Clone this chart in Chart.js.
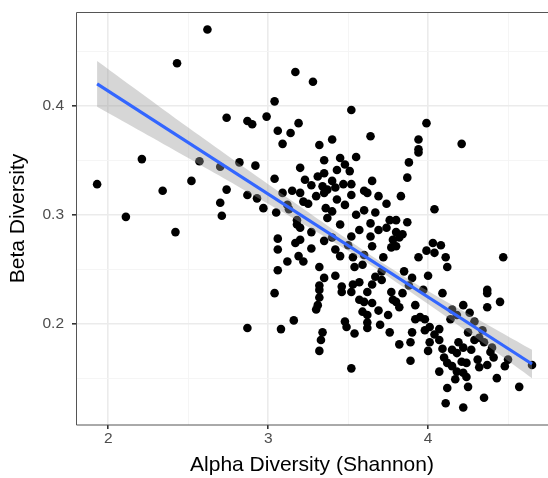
<!DOCTYPE html>
<html>
<head>
<meta charset="utf-8">
<script src="https://cdn.jsdelivr.net/npm/chart.js@4.4.1/dist/chart.umd.min.js"></script>
<style>
  html, body { margin: 0; padding: 0; background: #fff; }
  canvas { display: block; }
</style>
</head>
<body>
<canvas id="myChart" width="548" height="478"></canvas>
<script>
// samples: x = Shannon alpha diversity, y = beta diversity
const alphaDiversity = [
	1.93, 2.11, 2.21, 2.43, 2.42, 2.34, 2.52, 2.62, 2.57, 2.70,
	2.74, 2.70, 2.71, 2.74, 2.87, 2.90, 2.99, 3.04, 3.17, 3.28,
	3.19, 3.06, 3.14, 3.09, 3.32, 3.40, 3.52, 3.64, 3.99, 3.94,
	3.94, 4.21, 2.82, 2.92, 3.20, 3.35, 3.45, 3.55, 3.48, 3.51,
	3.43, 3.31, 3.35, 3.04, 3.40, 3.27, 3.34, 3.37, 3.42, 3.47,
	3.52, 3.65, 2.87, 2.93, 2.97, 3.09, 3.15, 3.20, 3.22, 3.25,
	3.30, 3.35, 3.52, 3.60, 3.62, 3.69, 3.74, 3.05, 3.12, 3.18,
	3.36, 3.40, 3.37, 3.45, 3.60, 3.67, 3.64, 3.76, 3.18, 3.20,
	3.06, 3.06, 3.17, 3.20, 3.27, 3.35, 3.40, 3.52, 3.57, 3.64,
	3.69, 3.74, 3.78, 3.42, 3.45, 3.19, 3.22, 3.53, 3.60, 3.65,
	3.72, 3.77, 3.06, 3.32, 3.54, 3.59, 3.67, 3.71, 3.35, 3.42,
	3.32, 3.46, 3.53, 3.57, 3.65, 3.71, 3.94, 3.88, 3.87, 3.83,
	4.04, 3.80, 3.87, 3.80, 3.84, 3.82, 3.80, 4.03, 4.08, 3.99,
	4.04, 3.94, 4.11, 4.12, 4.47, 3.85, 3.90, 4.00, 4.37, 3.04,
	3.32, 3.32, 3.31, 3.30, 3.46, 3.52, 3.62, 3.77, 3.60, 3.65,
	3.59, 3.62, 3.69, 3.75, 3.78, 2.87, 3.08, 3.16, 3.48, 3.49,
	3.54, 3.62, 3.62, 3.76, 3.34, 3.33, 3.32, 3.52, 3.84, 3.80,
	3.82, 3.92, 4.09, 4.22, 4.37, 4.37, 4.45, 3.95, 3.98, 3.98,
	4.01, 3.90, 3.82, 3.89, 4.01, 4.00, 4.07, 4.07, 4.09, 4.15,
	4.18, 4.26, 4.29, 4.25, 4.29, 4.32, 4.35, 4.40, 4.19, 4.22,
	4.15, 4.18, 4.10, 4.12, 4.15, 4.21, 4.24, 4.31, 4.32, 4.18,
	4.22, 4.24, 4.41, 4.48, 4.50, 4.43, 4.65, 3.89, 4.12, 4.25,
	4.35, 4.57, 4.11, 4.22, 4.34, 4.39, 3.48, 3.55, 3.27, 3.12,
	3.50, 3.57, 3.70, 3.92, 4.04, 4.14, 4.27, 4.37, 4.17, 4.07,
	3.97, 3.88, 3.43, 3.13, 3.23,
];
const betaDiversity = [
	0.328, 0.298, 0.351, 0.439, 0.284, 0.322, 0.331, 0.470, 0.349, 0.344,
	0.323, 0.311, 0.299, 0.389, 0.386, 0.383, 0.390, 0.404, 0.431, 0.422,
	0.384, 0.377, 0.375, 0.365, 0.364, 0.369, 0.396, 0.372, 0.384, 0.369,
	0.360, 0.365, 0.348, 0.345, 0.343, 0.350, 0.352, 0.353, 0.346, 0.340,
	0.341, 0.335, 0.338, 0.333, 0.331, 0.327, 0.326, 0.323, 0.325, 0.328,
	0.328, 0.331, 0.318, 0.315, 0.306, 0.320, 0.322, 0.320, 0.312, 0.310,
	0.317, 0.320, 0.318, 0.322, 0.320, 0.317, 0.310, 0.302, 0.309, 0.295,
	0.306, 0.303, 0.297, 0.291, 0.304, 0.302, 0.292, 0.295, 0.291, 0.288,
	0.278, 0.268, 0.274, 0.277, 0.269, 0.276, 0.279, 0.280, 0.286, 0.280,
	0.286, 0.288, 0.277, 0.268, 0.262, 0.262, 0.257, 0.261, 0.263, 0.271,
	0.261, 0.270, 0.249, 0.252, 0.252, 0.254, 0.243, 0.248, 0.242, 0.244,
	0.235, 0.234, 0.236, 0.238, 0.236, 0.240, 0.357, 0.348, 0.334, 0.317,
	0.305, 0.295, 0.293, 0.284, 0.282, 0.279, 0.271, 0.274, 0.272, 0.267,
	0.265, 0.261, 0.261, 0.252, 0.261, 0.248, 0.242, 0.244, 0.231, 0.228,
	0.231, 0.224, 0.217, 0.213, 0.229, 0.229, 0.229, 0.229, 0.220, 0.219,
	0.211, 0.208, 0.212, 0.208, 0.222, 0.196, 0.195, 0.203, 0.202, 0.197,
	0.191, 0.201, 0.196, 0.192, 0.192, 0.185, 0.175, 0.159, 0.228, 0.220,
	0.215, 0.217, 0.228, 0.217, 0.228, 0.215, 0.220, 0.206, 0.204, 0.194,
	0.197, 0.192, 0.181, 0.183, 0.183, 0.175, 0.195, 0.185, 0.177, 0.213,
	0.208, 0.210, 0.202, 0.192, 0.185, 0.187, 0.183, 0.178, 0.183, 0.178,
	0.176, 0.173, 0.169, 0.164, 0.161, 0.165, 0.164, 0.167, 0.160, 0.156,
	0.155, 0.151, 0.169, 0.161, 0.167, 0.150, 0.162, 0.166, 0.141, 0.142,
	0.132, 0.142, 0.127, 0.123, 0.194, 0.174, 0.309, 0.300, 0.284, 0.257,
	0.272, 0.222, 0.199, 0.204, 0.190, 0.204, 0.176, 0.162, 0.149, 0.156,
	0.231, 0.235, 0.314, 0.305, 0.332,
];

// fitted line and its confidence band
const fitX = [1.93, 2.5, 3.0, 3.5, 3.66, 4.0, 4.3, 4.65];
const fitY = [0.420, 0.366, 0.319, 0.272, 0.2565, 0.224, 0.196, 0.163];
const fitLow = [0.399, 0.352, 0.310, 0.267, 0.252, 0.218, 0.187, 0.150];
const fitHigh = [0.441, 0.380, 0.328, 0.277, 0.261, 0.230, 0.205, 0.176];

const xMajor = [2, 3, 4];
const xMinor = [2.5, 3.5, 4.5];
const yMajor = [0.2, 0.3, 0.4];
const yMinor = [0.15, 0.25, 0.35, 0.45];

const toPoints = (xs, ys) => xs.map((x, i) => ({ x, y: ys[i] }));

const isMajor = (list, v) => list.some((m) => Math.abs(m - v) < 1e-9);

// ggplot-like panel border (left, top, bottom; right side falls off the canvas)
const panelBorder = {
	id: "panelBorder",
	afterDatasetsDraw(chart) {
		const { ctx, chartArea } = chart;
		ctx.save();
		ctx.strokeStyle = "#555555";
		ctx.lineWidth = 1;
		ctx.beginPath();
		ctx.moveTo(chartArea.right + 1, chartArea.top + 0.5);
		ctx.lineTo(chartArea.left + 0.5, chartArea.top + 0.5);
		ctx.lineTo(chartArea.left + 0.5, chartArea.bottom);
		ctx.lineTo(chartArea.right + 1, chartArea.bottom);
		ctx.stroke();
		ctx.restore();
	},
};

const gridOpts = (major) => ({
	color: (c) => (isMajor(major, c.tick.value) ? "#ebebeb" : "#f4f4f4"),
	lineWidth: (c) => (isMajor(major, c.tick.value) ? 1.6 : 0.9),
	tickColor: (c) => (isMajor(major, c.tick.value) ? "#333333" : "rgba(0,0,0,0)"),
	tickLength: 4,
	drawTicks: true,
});

new Chart(document.getElementById("myChart"), {
	type: "scatter",
	data: {
		datasets: [
			{
				type: "line",
				data: toPoints([fitX[0], fitX[fitX.length - 1]], [fitY[0], fitY[fitY.length - 1]]),
				borderColor: "#3366ff",
				borderWidth: 3.2,
				pointRadius: 0,
				fill: false,
				order: 0,
			},
			{
				type: "line",
				data: toPoints(fitX, fitHigh),
				borderWidth: 0,
				pointRadius: 0,
				tension: 0.4,
				backgroundColor: "rgba(153,153,153,0.4)",
				fill: "+1",
				order: 1,
			},
			{
				type: "line",
				data: toPoints(fitX, fitLow),
				borderWidth: 0,
				pointRadius: 0,
				tension: 0.4,
				fill: false,
				order: 1,
			},
			{
				data: toPoints(alphaDiversity, betaDiversity),
				backgroundColor: "#000000",
				borderWidth: 0,
				pointRadius: 4.3,
				order: 2,
			},
		],
	},
	options: {
		responsive: false,
		animation: false,
		layout: { autoPadding: false, padding: { top: 12, right: 0, left: 0, bottom: 0 } },
		plugins: {
			legend: { display: false },
			tooltip: { enabled: false },
		},
		scales: {
			x: {
				type: "linear",
				min: 1.798,
				max: 4.75,
				afterBuildTicks: (scale) => {
					scale.ticks = [...xMajor, ...xMinor].sort((a, b) => a - b).map((value) => ({ value }));
				},
				afterFit: (scale) => {
					scale.height = 53;
					scale.paddingLeft = 0;
					scale.paddingRight = 0;
				},
				grid: gridOpts(xMajor),
				border: { display: false },
				ticks: {
					color: "#4d4d4d",
					font: { family: "Liberation Sans", size: 15.5 },
					padding: 0,
					maxRotation: 0,
					callback: (v) => (isMajor(xMajor, v) ? String(v) : ""),
				},
				title: {
					display: true,
					text: "Alpha Diversity (Shannon)",
					color: "#000000",
					font: { family: "Liberation Sans", size: 21 },
					padding: { top: 0, bottom: 0 },
				},
			},
			y: {
				type: "linear",
				min: 0.107,
				max: 0.486,
				afterBuildTicks: (scale) => {
					scale.ticks = [...yMajor, ...yMinor].sort((a, b) => a - b).map((value) => ({ value }));
				},
				afterFit: (scale) => {
					scale.width = 76;
					scale.paddingTop = 0;
					scale.paddingBottom = 0;
				},
				grid: gridOpts(yMajor),
				border: { display: false },
				ticks: {
					color: "#4d4d4d",
					font: { family: "Liberation Sans", size: 15.5 },
					padding: 8,
					callback: (v) => (isMajor(yMajor, v) ? v.toFixed(1) : ""),
				},
				title: {
					display: true,
					text: "Beta Diversity",
					color: "#000000",
					font: { family: "Liberation Sans", size: 21 },
					padding: { top: 6, bottom: 0 },
				},
			},
		},
	},
	plugins: [panelBorder],
});
</script>
</body>
</html>
